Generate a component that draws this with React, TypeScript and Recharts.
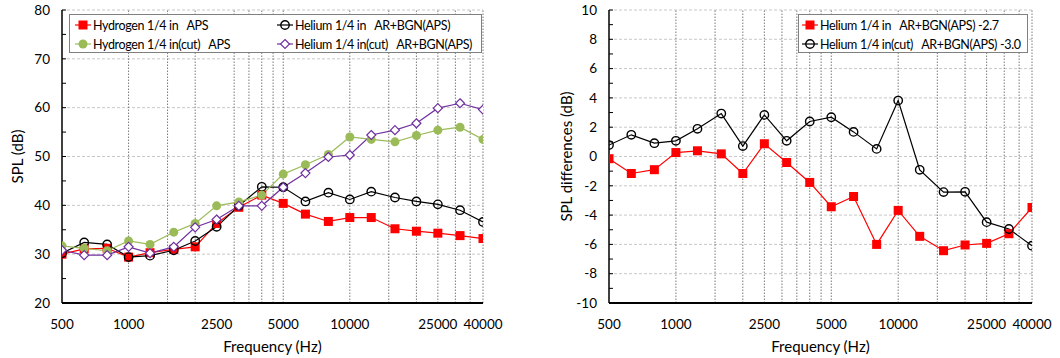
import React from "react";
import {
  LineChart,
  Line,
  XAxis,
  YAxis,
  ReferenceLine,
  Legend,
} from "recharts";

const FONT = "Lato, 'Open Sans', sans-serif";

// 1/3 octave centre frequencies
const freqs = [
  500, 630, 800, 1000, 1250, 1600, 2000, 2500, 3150, 4000, 5000, 6300, 8000,
  10000, 12500, 16000, 20000, 25000, 31500, 40000,
];

// left panel: SPL (dB)
const h2Aps = [
  30.0, 31.1, 31.2, 29.4, 30.3, 31.0, 31.5, 36.3, 39.6, 42.1, 40.4, 38.2, 36.7,
  37.5, 37.5, 35.2, 34.7, 34.3, 33.8, 33.2,
];
const heArBgn = [
  30.2, 32.4, 32.0, 29.4, 29.7, 30.8, 32.7, 35.6, 39.9, 43.8, 43.7, 40.8, 42.6,
  41.2, 42.8, 41.6, 40.8, 40.2, 39.0, 36.6,
];
const h2CutAps = [
  31.7, 31.2, 30.7, 32.7, 32.0, 34.5, 36.3, 39.9, 40.7, 42.1, 46.4, 48.3, 50.4,
  54.0, 53.5, 53.0, 54.3, 55.4, 56.0, 53.5,
];
const heCutArBgn = [
  30.8, 29.8, 29.8, 31.5, 30.2, 31.5, 35.5, 37.1, 39.9, 39.9, 43.7, 46.6, 49.9,
  50.3, 54.4, 55.4, 56.8, 59.9, 60.9, 59.6,
];

// right panel: SPL differences (dB)
const heDiff = [
  -0.15, -1.16, -0.9, 0.27, 0.39, 0.18, -1.16, 0.87, -0.41, -1.77, -3.43,
  -2.73, -6.0, -3.68, -5.45, -6.43, -6.04, -5.93, -5.27, -3.48,
];
const heCutDiff = [
  0.78, 1.48, 0.91, 1.07, 1.89, 2.93, 0.71, 2.84, 1.07, 2.39, 2.68, 1.68, 0.52,
  3.82, -0.91, -2.43, -2.41, -4.48, -4.95, -6.09,
];

const xTicks = [500, 1000, 2500, 5000, 10000, 25000, 40000];
const leftGridX = [
  1000, 1500, 2000, 3000, 3500, 4000, 4500, 5000, 10000, 15000, 20000, 25000,
  30000, 35000, 40000,
];
const rightGridX = [
  1000, 1500, 2000, 2500, 3000, 3500, 4000, 4500, 5000, 10000, 15000, 20000,
  25000, 30000, 35000, 40000,
];
const leftYTicks = [20, 25, 30, 35, 40, 45, 50, 55, 60, 65, 70, 75, 80];
const leftGridY = [30, 40, 50, 60, 70, 80];
const rightYTicks = [
  -10, -9, -8, -7, -6, -5, -4, -3, -2, -1, 0, 1, 2, 3, 4, 5, 6, 7, 8, 9, 10,
];
const rightGridY = [-8, -6, -4, -2, 0, 2, 4, 6, 8, 10];

const leftData = freqs.map((f, i) => ({
  f,
  h2: h2Aps[i],
  he: heArBgn[i],
  h2cut: h2CutAps[i],
  hecut: heCutArBgn[i],
}));
const rightData = freqs.map((f, i) => ({
  f,
  he: heDiff[i],
  hecut: heCutDiff[i],
}));

type Shape = "square" | "circle" | "disc" | "diamond";

function Marker({ shape, color, cx, cy }: { shape: Shape; color: string; cx: number; cy: number }) {
  if (shape === "square")
    return <rect x={cx - 4.5} y={cy - 4.5} width={9} height={9} fill={color} />;
  if (shape === "disc") return <circle cx={cx} cy={cy} r={4.5} fill={color} />;
  if (shape === "circle")
    return <circle cx={cx} cy={cy} r={4.2} fill="none" stroke={color} strokeWidth={1.4} />;
  return (
    <polygon
      points={`${cx},${cy - 4.5} ${cx + 4.5},${cy} ${cx},${cy + 4.5} ${cx - 4.5},${cy}`}
      fill="#fff"
      stroke={color}
      strokeWidth={1.2}
    />
  );
}

const makeDot = (shape: Shape, color: string) => (props: any) => (
  <Marker key={`d-${props.index}`} shape={shape} color={color} cx={props.cx} cy={props.cy} />
);

interface Series {
  key: string;
  name: string;
  color: string;
  shape: Shape;
  col: number;
  row: number;
}

const leftSeries: Series[] = [
  { key: "h2", name: "Hydrogen 1/4 in   APS", color: "#ff0000", shape: "square", col: 0, row: 0 },
  { key: "he", name: "Helium 1/4 in   AR+BGN(APS)", color: "#000000", shape: "circle", col: 1, row: 0 },
  { key: "h2cut", name: "Hydrogen 1/4 in(cut)   APS", color: "#9bbb59", shape: "disc", col: 0, row: 1 },
  { key: "hecut", name: "Helium 1/4 in(cut)   AR+BGN(APS)", color: "#7030a0", shape: "diamond", col: 1, row: 1 },
];
const rightSeries: Series[] = [
  { key: "he", name: "Helium 1/4 in   AR+BGN(APS) -2.7", color: "#ff0000", shape: "square", col: 0, row: 0 },
  { key: "hecut", name: "Helium 1/4 in(cut)   AR+BGN(APS) -3.0", color: "#000000", shape: "circle", col: 0, row: 1 },
];

function LegendBox({ series, colX }: { series: Series[]; colX: number[] }) {
  return (
    <div
      style={{
        position: "relative",
        width: "100%",
        height: "100%",
        boxSizing: "border-box",
        border: "1px solid #808080",
        background: "#fff",
        fontFamily: FONT,
        fontSize: 12.5,
        letterSpacing: -0.35,
        color: "#000",
      }}
    >
      {series.map((s) => (
        <div
          key={s.key}
          style={{
            position: "absolute",
            left: colX[s.col],
            top: 1 + s.row * 19,
            height: 18,
            display: "flex",
            alignItems: "center",
            whiteSpace: "pre",
          }}
        >
          <svg width={16} height={12} style={{ marginRight: 2 }}>
            <line x1={0} y1={6} x2={16} y2={6} stroke={s.color} strokeWidth={1.2} />
            <Marker shape={s.shape} color={s.color} cx={8} cy={6} />
          </svg>
          <span>{s.name}</span>
        </div>
      ))}
    </div>
  );
}

const tickStyle = { fill: "#000", fontSize: 13.5, fontFamily: FONT };

function Panel({
  data,
  series,
  margin,
  yWidth,
  yDomain,
  yTicks,
  gridX,
  gridY,
  yLabel,
  yLabelOffset,
  legendStyle,
  colX,
}: any) {
  return (
    <LineChart width={530} height={358} data={data} margin={margin}>
      {gridY.map((v: number) => (
        <ReferenceLine key={`gy${v}`} y={v} stroke="#c8c8c8" strokeDasharray="3 2" />
      ))}
      {gridX.map((f: number) => (
        <ReferenceLine key={`gx${f}`} x={f} stroke="#7a7a7a" strokeDasharray="1.5 1.5" />
      ))}
      <XAxis
        dataKey="f"
        type="number"
        scale="log"
        domain={[500, 40000]}
        ticks={xTicks}
        allowDataOverflow
        tickLine={false}
        tickMargin={10}
        height={55}
        axisLine={{ stroke: "#000", strokeWidth: 2 }}
        tick={tickStyle}
        label={{
          value: "Frequency (Hz)",
          position: "insideBottom",
          offset: 6,
          fill: "#000",
          fontSize: 15,
          fontFamily: FONT,
        }}
      />
      <YAxis
        type="number"
        domain={yDomain}
        ticks={yTicks}
        interval={0}
        width={yWidth}
        tickSize={-4}
        tickMargin={16}
        tickLine={{ stroke: "#000" }}
        axisLine={{ stroke: "#000", strokeWidth: 1.5 }}
        tick={tickStyle}
        tickFormatter={(v: number) => (v % (yTicks[1] - yTicks[0] === 5 ? 10 : 2) === 0 ? String(v) : "")}
        label={{
          value: yLabel,
          angle: -90,
          position: "insideLeft",
          offset: yLabelOffset,
          style: { textAnchor: "middle" },
          fill: "#000",
          fontSize: 15,
          fontFamily: FONT,
        }}
      />
      <Legend
        layout="vertical"
        align="center"
        verticalAlign="middle"
        wrapperStyle={legendStyle}
        content={() => <LegendBox series={series} colX={colX} />}
      />
      {series.map((s: Series) => (
        <Line
          key={s.key}
          dataKey={s.key}
          name={s.name}
          stroke={s.color}
          strokeWidth={1.2}
          dot={makeDot(s.shape, s.color)}
          activeDot={false}
          isAnimationActive={false}
        />
      ))}
    </LineChart>
  );
}

export default function App() {
  return (
    <div style={{ position: "absolute", left: 0, top: 0, display: "flex", background: "#fff" }}>
      <Panel
        data={leftData}
        series={leftSeries}
        margin={{ top: 10, right: 47, left: 0, bottom: 0 }}
        yWidth={62}
        yDomain={[20, 80]}
        yTicks={leftYTicks}
        gridX={leftGridX}
        gridY={leftGridY}
        yLabel="SPL (dB)"
        yLabelOffset={18}
        legendStyle={{ position: "absolute", left: 69, top: 14, width: 413, height: 39 }}
        colX={[5, 207]}
      />
      <Panel
        data={rightData}
        series={rightSeries}
        margin={{ top: 10, right: 28, left: 20, bottom: 0 }}
        yWidth={59}
        yDomain={[-10, 10]}
        yTicks={rightYTicks}
        gridX={rightGridX}
        gridY={rightGridY}
        yLabel="SPL differences (dB)"
        yLabelOffset={17}
        legendStyle={{ position: "absolute", left: 268, top: 14, width: 230, height: 39 }}
        colX={[3]}
      />
    </div>
  );
}
